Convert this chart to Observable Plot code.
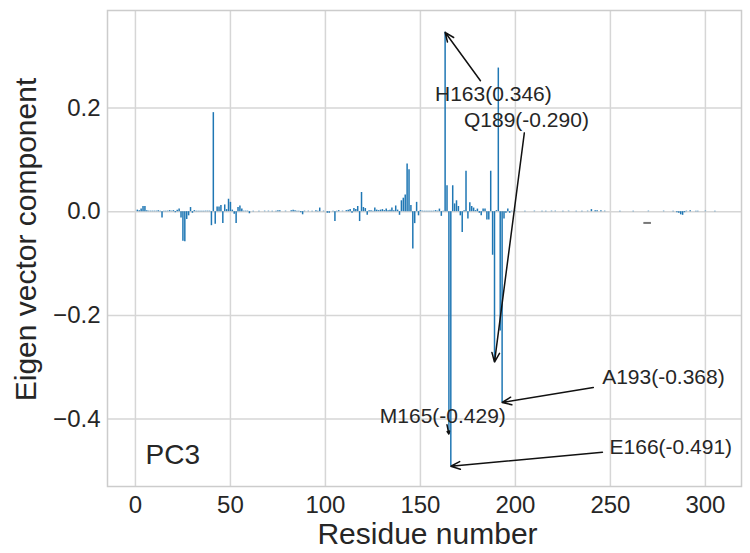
<!DOCTYPE html>
<html><head><meta charset="utf-8">
<script src="https://cdn.jsdelivr.net/npm/d3@7"></script>
<script src="https://cdn.jsdelivr.net/npm/@observablehq/plot@0.6"></script>
<style>body{margin:0;background:#fff} svg{display:block}</style>
</head><body><div id="chart"></div>
<script>
// Residue numbers and PC3 eigenvector components
const residues = [
  1,2,3,4,5,6,7,8,9,10,11,12,13,14,15,16,17,18,19,20,
  21,22,23,24,25,26,27,28,29,30,31,32,33,34,35,36,37,38,39,40,
  41,42,43,44,45,46,47,48,49,50,51,52,53,54,55,56,57,58,59,60,
  62,65,68,70,72,74,75,76,79,82,83,84,85,86,87,88,89,91,93,95,96,97,99,
  101,102,104,105,106,107,109,111,112,113,114,115,116,117,118,119,120,
  121,122,123,124,125,126,127,128,129,130,131,132,133,134,135,136,137,138,139,140,
  141,142,143,144,145,146,147,148,149,150,151,152,153,154,155,156,157,158,159,160,
  161,162,163,164,165,166,167,168,169,170,171,172,173,174,175,176,177,178,179,180,
  181,182,183,184,185,186,187,188,189,190,191,192,193,194,195,196,197,198,200,
  205,210,214,216,219,221,225,228,232,235,238,240,242,243,245,247,255,262,270,278,
  283,285,286,287,288,289,290,292,295,296,300,305
];
const values = [
  0.003,0.002,0.005,0.010,0.010,0.002,0.001,0.001,0.001,0.001,0.001,0.002,0.001,-0.012,0.001,0.001,0.001,0.002,0.001,0.002,
  -0.002,0.003,0.005,-0.012,-0.057,-0.058,-0.015,-0.008,0.008,-0.003,0.002,0.001,0.001,0.001,0.001,0.001,0.001,0.001,0.001,-0.027,
  0.191,-0.024,0.009,0.009,0.012,-0.023,0.013,0.004,0.024,0.018,0.003,-0.005,-0.023,0.008,0.011,0.005,0.001,0.001,0.001,-0.004,
  0.001,0.001,0.001,0.001,0.001,0.001,0.002,0.002,0.001,0.002,0.003,0.002,0.001,0.001,-0.002,-0.006,0.001,0.001,0.001,0.002,0.001,0.007,0.001,
  -0.003,-0.003,0.001,-0.019,0.001,0.002,0.001,0.002,0.003,0.004,-0.003,0.006,0.004,0.010,-0.019,0.037,0.008,
  0.006,-0.007,0.002,0.002,0.001,0.007,0.003,0.002,0.003,0.004,0.002,0.005,0.002,0.003,0.007,0.002,0.011,0.003,-0.007,0.021,
  0.026,0.032,0.092,0.081,0.012,-0.072,-0.023,0.018,-0.008,0.002,0.001,0.001,0.001,0.001,0.001,0.001,0.001,0.002,0.001,0.005,
  -0.009,0.001,0.346,0.050,-0.429,-0.491,0.050,0.015,0.021,0.010,-0.008,-0.040,0.002,0.078,-0.014,0.017,0.010,0.007,0.002,0.005,
  -0.003,-0.008,0.005,0.005,-0.016,-0.016,0.078,-0.084,-0.290,0.002,0.277,-0.230,-0.368,-0.014,-0.003,0.005,-0.003,0.001,0.001,
  0.001,0.001,0.001,0.001,0.001,0.001,0.001,0.001,0.001,0.001,0.001,0.004,0.002,0.002,0.002,0.001,0.001,0.001,0.001,0.001,
  0.001,-0.002,-0.003,-0.006,-0.007,-0.002,0.001,0.002,0.001,0.001,0.001,0.001
];

// Annotations
const noteLabels  = ["H163(0.346)", "Q189(-0.290)", "A193(-0.368)", "M165(-0.429)", "E166(-0.491)"];
const noteResidue = [163, 189, 193, 165, 166];
const noteValue   = [0.346, -0.290, -0.368, -0.429, -0.491];
const noteTextX   = [188.4, 205.8, 277.9, 161.8, 281.8];
const noteTextY   = [0.227, 0.177, -0.320, -0.395, -0.455];
const arrowFromX  = [181.6, 204.7, 241.0, 164.0, 245.8];
const arrowFromY  = [0.2525, 0.152, -0.339, -0.411, -0.464];

// Stray dash seen in the picture
const dashY = [-0.0217];
const dashX1 = [267.6];
const dashX2 = [271.6];

const xTicks = [0, 50, 100, 150, 200, 250, 300];
const yTicks = [-0.4, -0.2, 0.0, 0.2];
const panelLabel = ["PC3"];
const xLabel = ["Residue number"];
const yLabel = ["Eigen vector component"];

const bars = residues.map((r, i) => ({residue: r, value: values[i]}));
const notes = noteLabels.map((t, i) => ({
  label: t, x: noteResidue[i], y: noteValue[i],
  tx: noteTextX[i], ty: noteTextY[i], ax: arrowFromX[i], ay: arrowFromY[i]
}));
const dashes = dashY.map((y, i) => ({y, x1: dashX1[i], x2: dashX2[i]}));

const ink = "#262626";
const plot = Plot.plot({
  width: 750, height: 553,
  marginLeft: 107, marginRight: 9, marginTop: 10, marginBottom: 67,
  style: {fontFamily: "'Liberation Sans', Arial, sans-serif", color: ink, background: "#fff", overflow: "visible"},
  x: {domain: [-14.7, 319]},
  y: {domain: [-0.530, 0.388]},
  marks: [
    Plot.gridX(xTicks, {stroke: "#d6d6d6", strokeOpacity: 1, strokeWidth: 1.5}),
    Plot.gridY(yTicks, {stroke: "#d6d6d6", strokeOpacity: 1, strokeWidth: 1.5}),
    Plot.ruleX(bars, {x: "residue", y1: 0, y2: "value", stroke: "#1f77b4", strokeWidth: 1.5}),
    Plot.ruleY(dashes, {y: "y", x1: "x1", x2: "x2", stroke: "#777", strokeWidth: 2}),
    Plot.frame({stroke: "#cccccc", strokeWidth: 1.5}),
    Plot.axisX(xTicks, {anchor: "bottom", tickSize: 0, tickPadding: 9, fontSize: 24, label: null, tickFormat: d => String(d)}),
    Plot.axisY(yTicks, {anchor: "left", tickSize: 0, tickPadding: 7, fontSize: 24, label: null, tickFormat: d3.format(".1f")}),
    Plot.text(xLabel, {frameAnchor: "bottom", dx: 3, dy: 57, lineAnchor: "bottom", fontSize: 30, fill: ink}),
    Plot.text(yLabel, {frameAnchor: "left", rotate: -90, dx: -93, dy: -9, textAnchor: "middle", lineAnchor: "top", fontSize: 30, fill: ink}),
    Plot.arrow(notes, {x1: "ax", y1: "ay", x2: "x", y2: "y", stroke: "#111", strokeWidth: 1.5, headLength: 10, headAngle: 45}),
    Plot.text(notes, {x: "tx", y: "ty", text: "label", fontSize: 21, fill: ink}),
    Plot.text(panelLabel, {frameAnchor: "bottom-left", dx: 38, dy: -23, lineAnchor: "bottom", textAnchor: "start", fontSize: 28, fill: ink})
  ]
});
document.getElementById("chart").appendChild(plot);
</script>
</body></html>
